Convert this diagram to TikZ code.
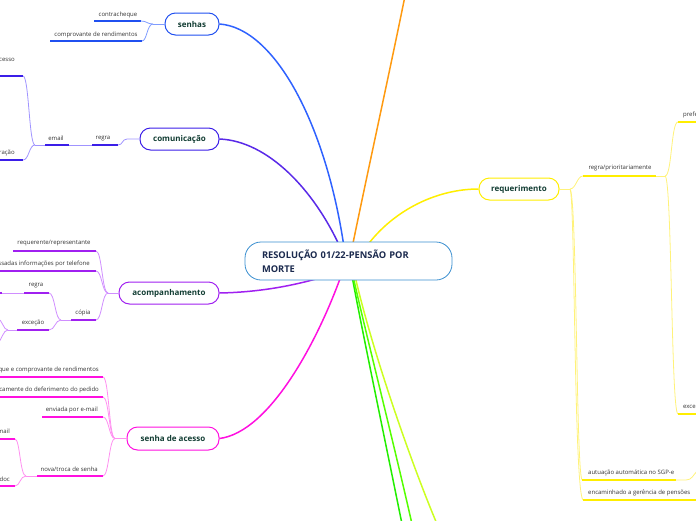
\documentclass[tikz,border=0pt]{standalone}
\usepackage{fontspec}
\setmainfont{Open Sans}
\definecolor{labgreen}{HTML}{123D33}
\definecolor{rootblue}{HTML}{1B2A4E}
\definecolor{rootedge}{HTML}{3A8FD0}
\definecolor{txtgray}{HTML}{333333}
\definecolor{cSen}{HTML}{2050F0}
\definecolor{cSenL}{HTML}{7F9CFF}
\definecolor{cSenT}{HTML}{2F62FF}
\definecolor{cCom}{HTML}{3B1EE8}
\definecolor{cComL}{HTML}{A094FF}
\definecolor{cComT}{HTML}{5A2AE8}
\definecolor{cAco}{HTML}{A020F0}
\definecolor{cAcoL}{HTML}{D08EFF}
\definecolor{cSda}{HTML}{FF10E0}
\definecolor{cSdaL}{HTML}{FF90F0}
\definecolor{cReq}{HTML}{FFEE00}
\definecolor{cReqL}{HTML}{FFF27A}
\definecolor{cOra}{HTML}{FF9A10}
\definecolor{cGr1}{HTML}{22EE00}
\definecolor{cGr2}{HTML}{55FF00}
\definecolor{cGr3}{HTML}{CCFF22}
\begin{document}
\begin{tikzpicture}[x=1pt,y=-1pt,
  mainnode/.style={draw, line width=1pt, fill=white, rounded corners=10.5pt, minimum height=22pt, inner sep=0pt, font=\fontsize{8}{10}\selectfont\bfseries, text=labgreen},
  rootnode/.style={draw=rootedge, line width=0.8pt, fill=white, rounded corners=16pt, minimum height=38pt, minimum width=207pt, text width=173pt, inner xsep=17pt, inner ysep=0pt, align=left, font=\fontsize{9.3}{14}\selectfont\bfseries, text=rootblue},
  lbl/.style={font=\fontsize{6}{7}\selectfont, text=txtgray, inner sep=0pt},
  ul/.style={line width=2pt},
  br/.style={line width=0.8pt},
  trunk/.style={line width=1.5pt}]
\path[use as bounding box] (0,0) rectangle (696,520);
\clip (0,0) rectangle (696,520);

% ---- main topic nodes
\node[mainnode, draw=cSen, minimum width=54pt] (senhas) at (192,24) {senhas};
\node[mainnode, draw=cCom, minimum width=79pt] (com) at (179.5,139) {comunicação};
\node[mainnode, draw=cAco, minimum width=100pt] (aco) at (169,293) {acompanhamento};
\node[mainnode, draw=cSda, minimum width=92pt, minimum height=23pt] (sda) at (173,438.5) {senha de acesso};
\node[mainnode, draw=cReq, minimum width=80pt] (req) at (519,189) {requerimento};

% ---- hub coordinates (under the central node)
\coordinate (hS) at (344,247);
\coordinate (hC) at (340,247);
\coordinate (hA) at (345,270);
\coordinate (hM) at (341,276);
\coordinate (hR) at (364,250);
\coordinate (hO) at (352,248);
\coordinate (hG1) at (352,276);
\coordinate (hG2) at (353,276);
\coordinate (hG3) at (355,276);
\coordinate (eO) at (405,-4);
\coordinate (eG1) at (402,524);
\coordinate (eG2) at (412,524);
\coordinate (eG3) at (437,524);

% ---- trunks
\draw[trunk, cSenT] (senhas.east) .. controls (275,28) and (326,125) .. (hS);
\draw[trunk, cComT] (com.east) .. controls (268,141) and (314,190) .. (hC);
\draw[trunk, cAco] (aco.east) .. controls (270,292) and (310,282) .. (hA);
\draw[trunk, cSda] (sda.east) .. controls (270,432) and (318,340) .. (hM);
\draw[trunk, cReq] (req.west) .. controls (435,189) and (390,212) .. (hR);
\draw[trunk, cOra] (hO) .. controls (368,170) and (390,70) .. (eO);
\draw[trunk, cGr1] (hG1) .. controls (362,330) and (385,440) .. (eG1);
\draw[trunk, cGr2] (hG2) .. controls (365,330) and (393,440) .. (eG2);
\draw[trunk, cGr3] (hG3) .. controls (372,350) and (410,460) .. (eG3);

% ---- central node
\node[rootnode] (root) at (348.5,261) {RESOLUÇÃO 01/22-PENSÃO POR\\MORTE};

% ---- senhas branch
\coordinate (sB) at (153,24);
\coordinate (s1a) at (94,21);  \coordinate (s1b) at (141,21);
\coordinate (s2a) at (50,41);  \coordinate (s2b) at (142,41);
\draw[br, cSenL] (senhas.west) -- (sB);
\draw[br, cSenL] (sB) .. controls (147,24) and (147,21) .. (s1b);
\draw[br, cSenL] (sB) .. controls (147,24) and (147,41) .. (s2b);
\draw[ul, cSen] (s1a) -- (s1b);
\draw[ul, cSen] (s2a) -- (s2b);
\node[lbl] (t_contra) at (118,15) {contracheque};
\node[lbl] (t_comp) at (96,34.5) {comprovante de rendimentos};

% ---- comunicacao branch
\coordinate (cB) at (127,139);
\coordinate (c1a) at (92,145); \coordinate (c1b) at (118,145);
\coordinate (c2a) at (45,145); \coordinate (c2b) at (69,145);
\coordinate (eB) at (35,145);
\coordinate (c3a) at (-2,76);  \coordinate (c3b) at (23,76);
\coordinate (c4a) at (-2,160); \coordinate (c4b) at (23,160);
\draw[br, cComL] (com.west) -- (cB) .. controls (122,139) and (123,145) .. (c1b);
\draw[br, cComL] (c2b) -- (c1a);
\draw[br, cComL] (c2a) -- (eB);
\draw[br, cComL] (eB) .. controls (29,145) and (29,76) .. (c3b);
\draw[br, cComL] (eB) .. controls (29,145) and (29,160) .. (c4b);
\draw[ul, cCom] (c1a) -- (c1b);
\draw[ul, cCom] (c2a) -- (c2b);
\draw[ul, cCom] (c3a) -- (c3b);
\draw[ul, cCom] (c4a) -- (c4b);
\node[lbl] (t_regra1) at (103,138.5) {regra};
\node[lbl] (t_email) at (56,138.5) {email};
\node[lbl, anchor=west] (t_cesso) at (-1,60) {cesso};
\node[lbl, anchor=west] (t_racao) at (-1,153) {ração};

% ---- acompanhamento branch
\coordinate (aB) at (108,293);
\coordinate (a1a) at (13,251);  \coordinate (a1b) at (96,251);
\coordinate (a2a) at (-2,271);  \coordinate (a2b) at (96,271);
\coordinate (a3a) at (71,320);  \coordinate (a3b) at (96,320);
\coordinate (cpB) at (61,320);
\coordinate (a4a) at (24,293);  \coordinate (a4b) at (49,293);
\coordinate (a4c) at (-2,293);  \coordinate (a4d) at (2,293);
\coordinate (a5a) at (17,330);  \coordinate (a5b) at (49,330);
\coordinate (xB) at (8,330);
\coordinate (x1) at (-3,318);   \coordinate (x2) at (-3,344);
\draw[br, cAcoL] (aco.west) -- (aB);
\draw[br, cAcoL] (aB) .. controls (102,293) and (102,251) .. (a1b);
\draw[br, cAcoL] (aB) .. controls (102,293) and (102,271) .. (a2b);
\draw[br, cAcoL] (aB) .. controls (102,293) and (102,320) .. (a3b);
\draw[br, cAcoL] (a3a) -- (cpB);
\draw[br, cAcoL] (cpB) .. controls (55,320) and (55,293) .. (a4b);
\draw[br, cAcoL] (cpB) .. controls (55,320) and (55,330) .. (a5b);
\draw[br, cAcoL] (a4c) -- (a4a);
\draw[br, cAcoL] (a5a) -- (xB);
\draw[br, cAcoL] (xB) .. controls (3,330) and (3,320) .. (x1);
\draw[br, cAcoL] (xB) .. controls (3,330) and (2,340) .. (x2);
\draw[ul, cAco] (a1a) -- (a1b);
\draw[ul, cAco] (a2a) -- (a2b);
\draw[ul, cAco] (a3a) -- (a3b);
\draw[ul, cAco] (a4a) -- (a4b);
\draw[ul, cAco] (a4c) -- (a4d);
\draw[ul, cAco] (a5a) -- (a5b);
\node[lbl] (t_reqrep) at (54,243.5) {requerente/representante};
\node[lbl, anchor=east] (t_tel) at (90,263.5) {ssadas informações por telefone};
\node[lbl] (t_copia) at (83,312.5) {cópia};
\node[lbl] (t_regra2) at (36,286) {regra};
\node[lbl] (t_exc) at (33,323) {exceção};

% ---- senha de acesso branch
\coordinate (mB) at (115,438.5);
\coordinate (m1a) at (-2,377);  \coordinate (m1b) at (103,377);
\coordinate (m2a) at (-2,397);  \coordinate (m2b) at (103,397);
\coordinate (m3a) at (42,417);  \coordinate (m3b) at (103,417);
\coordinate (m4a) at (37,476);  \coordinate (m4b) at (103,476);
\coordinate (nB) at (26,476);
\coordinate (m5a) at (-2,439);  \coordinate (m5b) at (15,439);
\coordinate (m6a) at (-2,486);  \coordinate (m6b) at (15,486);
\draw[br, cSdaL] (sda.west) -- (mB);
\draw[br, cSdaL] (mB) .. controls (109,438.5) and (109,377) .. (m1b);
\draw[br, cSdaL] (mB) .. controls (109,438.5) and (109,397) .. (m2b);
\draw[br, cSdaL] (mB) .. controls (109,438.5) and (109,417) .. (m3b);
\draw[br, cSdaL] (mB) .. controls (109,438.5) and (109,476) .. (m4b);
\draw[br, cSdaL] (m4a) -- (nB);
\draw[br, cSdaL] (nB) .. controls (20,476) and (20,439) .. (m5b);
\draw[br, cSdaL] (nB) .. controls (20,476) and (20,486) .. (m6b);
\draw[ul, cSda] (m1a) -- (m1b);
\draw[ul, cSda] (m2a) -- (m2b);
\draw[ul, cSda] (m3a) -- (m3b);
\draw[ul, cSda] (m4a) -- (m4b);
\draw[ul, cSda] (m5a) -- (m5b);
\draw[ul, cSda] (m6a) -- (m6b);
\node[lbl, anchor=east] (t_m1) at (99,369.5) {que e comprovante de rendimentos};
\node[lbl, anchor=east] (t_m2) at (99,389.5) {camente do deferimento do pedido};
\node[lbl, anchor=east] (t_m3) at (98,409.5) {enviada por e-mail};
\node[lbl, anchor=east] (t_m4) at (98,469) {nova/troca de senha};
\node[lbl, anchor=east] (t_m5) at (10,431.5) {mail};
\node[lbl, anchor=east] (t_m6) at (10,479) {doc};

% ---- requerimento branch
\coordinate (rB) at (570,189);
\coordinate (r1a) at (583,176);  \coordinate (r1b) at (656,176);
\coordinate (pB) at (665,176);
\coordinate (r2a) at (678,122);  \coordinate (r2b) at (698,122);
\coordinate (r3a) at (678,414);  \coordinate (r3b) at (698,414);
\coordinate (r4a) at (582,480);  \coordinate (r4b) at (676,480);
\coordinate (r5a) at (583,500);  \coordinate (r5b) at (698,500);
\coordinate (aeB) at (686,480);
\coordinate (aeE) at (698,470);
\draw[br, cReqL] (req.east) -- (rB);
\draw[br, cReqL] (rB) .. controls (576,189) and (577,176) .. (r1a);
\draw[br, cReqL] (rB) .. controls (577,195) and (576,470) .. (r4a);
\draw[br, cReqL] (rB) .. controls (575,195) and (574,492) .. (r5a);
\draw[br, cReqL] (r1b) -- (pB);
\draw[br, cReqL] (pB) .. controls (672,176) and (671,122) .. (r2a);
\draw[br, cReqL] (pB) .. controls (672,176) and (671,414) .. (r3a);
\draw[br, cReqL] (r4b) -- (aeB) .. controls (692,480) and (693,475) .. (aeE);
\draw[ul, cReq] (r1a) -- (r1b);
\draw[ul, cReq] (r2a) -- (r2b);
\draw[ul, cReq] (r3a) -- (r3b);
\draw[ul, cReq] (r4a) -- (r4b);
\draw[ul, cReq] (r5a) -- (r5b);
\node[lbl] (t_regprio) at (620,168.5) {regra/prioritariamente};
\node[lbl, anchor=west] (t_prefe) at (683,115) {prefe};
\node[lbl, anchor=west] (t_exce) at (683,407) {exce};
\node[lbl, anchor=west] (t_autu) at (588,472.5) {autuação automática no SGP-e};
\node[lbl, anchor=west] (t_enc) at (588,492.5) {encaminhado a gerência de pensões};
\end{tikzpicture}
\end{document}
